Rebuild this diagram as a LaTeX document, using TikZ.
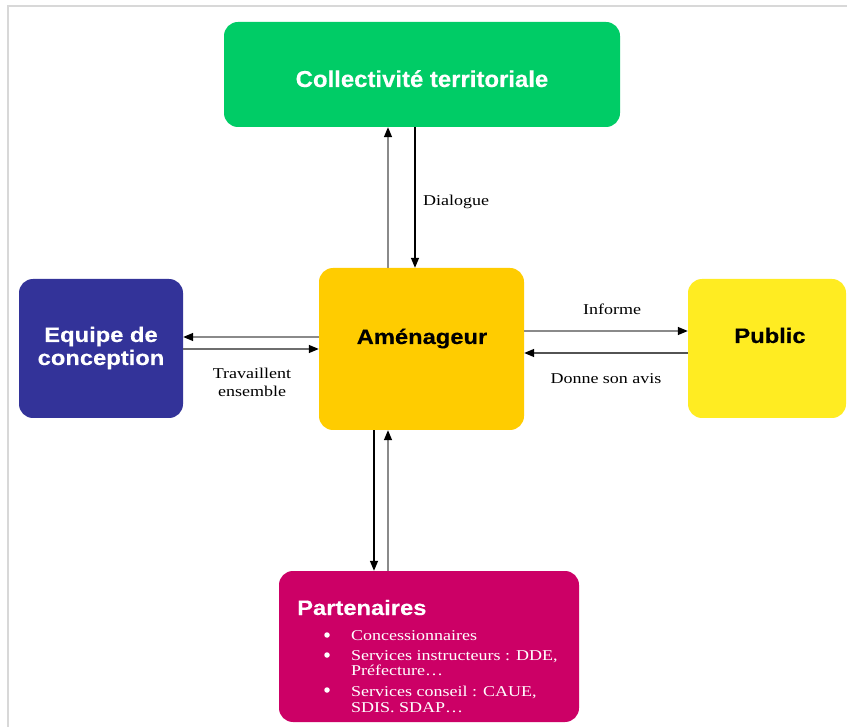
\documentclass[tikz,border=0pt]{standalone}
\usepackage{fontspec}
\setmainfont{Liberation Serif}
\newfontfamily\hfont[FakeStretch=1.13,FakeBold=0.3]{Liberation Sans}
\newfontfamily\hfontb[FakeStretch=1.04,FakeBold=0.3]{Liberation Sans}
\newfontfamily\lfont[FakeStretch=1.2]{Liberation Serif}
\usetikzlibrary{arrows.meta}
\definecolor{cgreen}{HTML}{00CC66}
\definecolor{camen}{HTML}{FFCC00}
\definecolor{cequipe}{HTML}{333399}
\definecolor{cpublic}{HTML}{FFEC22}
\definecolor{cpart}{HTML}{CC0066}
\definecolor{cframe}{HTML}{D8D8D8}
\definecolor{cline}{HTML}{8A8A8A}
\begin{document}
\begin{tikzpicture}[x=1pt,y=-1pt,
  box/.style={draw=none, rounded corners=14pt, inner sep=0pt},
  ttl/.style={font=\hfont\bfseries\fontsize{21}{23}\selectfont, inner sep=0pt, anchor=base},
  lbl/.style={font=\lfont\fontsize{15}{17}\selectfont, inner sep=0pt, anchor=base},
  itm/.style={font=\lfont\fontsize{15}{17}\selectfont, text=white, inner sep=0pt, anchor=base west},
  blt/.style={circle, fill=white, inner sep=0pt, minimum size=5.5pt},
  arr/.style={-{Triangle[length=10pt,width=8pt,color=black]}, line width=1.4pt},
]
\useasboundingbox (0,0) rectangle (847,727);
\fill[white] (0,0) rectangle (847,727);
\draw[cframe, line width=2pt] (8,727) -- (8,6) -- (847,6);

% boxes
\node[box, fill=cgreen, minimum width=396pt, minimum height=105pt] (coll) at (422,74.5) {};
\node[box, fill=camen, minimum width=205pt, minimum height=162pt] (amen) at (421.5,349) {};
\node[box, fill=cequipe, minimum width=164pt, minimum height=139pt] (equipe) at (101,348.5) {};
\node[box, fill=cpublic, minimum width=158pt, minimum height=139pt] (public) at (767,348.5) {};
\node[box, fill=cpart, minimum width=300pt, minimum height=151pt] (part) at (429,646.5) {};

% titles
\node[ttl, font=\hfontb\bfseries\fontsize{23}{25}\selectfont, text=white] (tcoll) at (422,87) {Collectivité territoriale};
\node[ttl] (tamen) at (422,344) {Aménageur};
\node[ttl, text=white] (tequipe1) at (101,342) {Equipe de};
\node[ttl, text=white] (tequipe2) at (101,365) {conception};
\node[ttl] (tpublic) at (770,343) {Public};
\node[ttl, anchor=base west, text=white] (tpart) at (297,615) {Partenaires};

% list
\node[blt] (b1) at (327,635) {};
\node[blt] (b2) at (327,655) {};
\node[blt] (b3) at (327,690) {};
\node[itm] (i1) at (351,640) {Concessionnaires};
\node[itm] (i2a) at (351,660) {Services instructeurs : DDE,};
\node[itm] (i2b) at (351,675) {Préfecture\dots};
\node[itm] (i3a) at (351,696) {Services conseil : CAUE,};
\node[itm] (i3b) at (351,712) {SDIS. SDAP\dots};

% helper coordinates
\coordinate (x388) at (388,0);
\coordinate (x415) at (415,0);
\coordinate (x374) at (374,0);
\coordinate (y337) at (0,337);
\coordinate (y349) at (0,349);
\coordinate (y331) at (0,331);
\coordinate (y353) at (0,353);

% connectors
\draw[arr, draw=cline] (amen.north -| x388) -- (coll.south -| x388);
\draw[arr, draw=black] (coll.south -| x415) -- (amen.north -| x415);
\draw[arr, draw=cline] (amen.west |- y337) -- (equipe.east |- y337);
\draw[arr, draw=cline!80!black] (equipe.east |- y349) -- (amen.west |- y349);
\draw[arr, draw=cline] (amen.east |- y331) -- (public.west |- y331);
\draw[arr, draw=cline!60!black] (public.west |- y353) -- (amen.east |- y353);
\draw[arr, draw=black] (amen.south -| x374) -- (part.north -| x374);
\draw[arr, draw=cline] (part.north -| x388) -- (amen.south -| x388);

% labels
\node[lbl, anchor=base west] (ldlg) at (423,206) {Dialogue};
\node[lbl] (ltrav1) at (252,379) {Travaillent};
\node[lbl] (ltrav2) at (252,397) {ensemble};
\node[lbl] (linf) at (612,315) {Informe};
\node[lbl] (ldonne) at (606,384) {Donne son avis};
\end{tikzpicture}
\end{document}
